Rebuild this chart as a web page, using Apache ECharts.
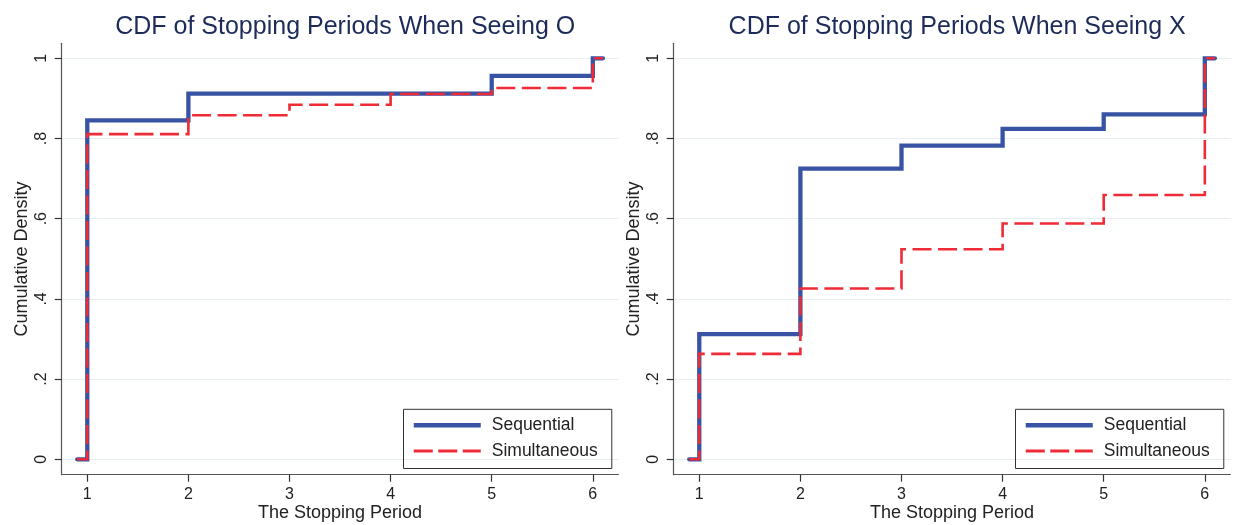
<!DOCTYPE html>
<html>
<head>
<meta charset="utf-8">
<title>CDF of Stopping Periods</title>
<script src="https://cdn.jsdelivr.net/npm/echarts@6/dist/echarts.min.js"></script>
<style>
  html, body { margin: 0; padding: 0; background: #ffffff; }
  #chart { width: 1233px; height: 525px; }
</style>
</head>
<body>
<div id="chart"></div>
<script>
// Stopping periods (0.9 and 6.1 pad the step lines at both ends)
const periods = [0.9, 1, 2, 3, 4, 5, 6, 6.1];

// Cumulative share stopped by each period, seeing O
const seqO = [0, 0.845, 0.912, 0.912, 0.912, 0.956, 1, 1];
const simO = [0, 0.811, 0.858, 0.884, 0.911, 0.926, 1, 1];

// Cumulative share stopped by each period, seeing X
const seqX = [0, 0.312, 0.725, 0.782, 0.824, 0.860, 1, 1];
const simX = [0, 0.263, 0.426, 0.524, 0.588, 0.659, 1, 1];

const xTicks = [1, 2, 3, 4, 5, 6];
const yTicks = [0, 0.2, 0.4, 0.6, 0.8, 1];
const yTickLabels = ['0', '.2', '.4', '.6', '.8', '1'];

const titles = ['CDF of Stopping Periods When Seeing O', 'CDF of Stopping Periods When Seeing X'];
const seriesNames = ['Sequential', 'Simultaneous'];

const BLUE = '#3853a4';
const RED = '#ee2b36';
const FONT = '"Liberation Sans", Arial, Helvetica, sans-serif';

const panels = [
  { left: 61.7, seq: seqO, sim: simO },
  { left: 673.7, seq: seqX, sim: simX }
];
const plotW = 556.7;

function pairs(xs, ys) { return xs.map((x, i) => [x, ys[i]]); }

const option = {
  animation: false,
  backgroundColor: '#ffffff',
  textStyle: { fontFamily: FONT },
  title: panels.map((p, i) => ({
    text: titles[i],
    left: p.left + 278.5,
    textAlign: 'center',
    top: 10,
    textStyle: { fontFamily: FONT, fontSize: 25, fontWeight: 'normal', color: '#1c2b5a' }
  })),
  legend: panels.map((p, i) => ({
    data: [
      { name: seriesNames[0], lineStyle: { color: BLUE, width: 4.5, type: 'solid', cap: 'butt' } },
      { name: seriesNames[1], lineStyle: { color: RED, width: 2.8, type: [19, 5.5], cap: 'butt' } }
    ],
    orient: 'vertical',
    left: p.left + 341.8,
    top: 409.3,
    padding: [7, 14, 8.5, 8],
    itemWidth: 67,
    itemHeight: 18,
    itemGap: 7.7,
    itemStyle: { opacity: 0 },
    borderColor: '#333',
    borderWidth: 1,
    borderRadius: 0,
    selectedMode: false,
    textStyle: { fontFamily: FONT, fontSize: 17.5, color: '#222', lineHeight: 18, padding: [0, 0, 0, 6] }
  })),
  grid: panels.map(p => ({
    left: p.left, top: 43.3, width: plotW, height: 431.4,
    containLabel: false, outerBoundsMode: 'none'
  })),
  xAxis: panels.map((p, i) => ({
    type: 'value',
    gridIndex: i,
    min: 0.747,
    max: 6.253,
    name: 'The Stopping Period',
    nameLocation: 'middle',
    nameGap: 29,
    nameMoveOverlap: false,
    nameTextStyle: { fontFamily: FONT, fontSize: 18, color: '#222' },
    axisLine: { show: true, onZero: false, lineStyle: { color: '#555', width: 1.2 } },
    axisTick: { show: true, length: 7, customValues: xTicks, lineStyle: { color: '#333', width: 1.2 } },
    axisLabel: { customValues: xTicks, margin: 12, fontFamily: FONT, fontSize: 16, color: '#222' },
    splitLine: { show: false }
  })),
  yAxis: panels.map((p, i) => ({
    type: 'value',
    gridIndex: i,
    min: -0.0384,
    max: 1.0374,
    name: 'Cumulative Density',
    nameLocation: 'middle',
    nameGap: 31,
    nameMoveOverlap: false,
    nameTextStyle: { fontFamily: FONT, fontSize: 18, color: '#222' },
    axisLine: { show: true, onZero: false, lineStyle: { color: '#555', width: 1.2 } },
    axisTick: { show: true, length: 7, customValues: yTicks, lineStyle: { color: '#333', width: 1.2 } },
    axisLabel: {
      customValues: yTicks,
      rotate: 90,
      margin: 12,
      fontFamily: FONT, fontSize: 16, color: '#222',
      formatter: v => {
        const k = yTicks.findIndex(t => Math.abs(t - v) < 1e-9);
        return k >= 0 ? yTickLabels[k] : '';
      }
    },
    splitLine: { show: true, lineStyle: { color: '#e6eef1', width: 1.2 } }
  })),
  series: []
};

panels.forEach((p, i) => {
  option.series.push({
    name: seriesNames[0],
    type: 'line',
    xAxisIndex: i,
    yAxisIndex: i,
    step: 'end',
    symbol: 'none',
    data: pairs(periods, p.seq),
    color: BLUE,
    lineStyle: { color: BLUE, width: 4.3, cap: 'round', join: 'miter' },
    z: 2
  });
  option.series.push({
    name: seriesNames[1],
    type: 'line',
    xAxisIndex: i,
    yAxisIndex: i,
    step: 'end',
    symbol: 'none',
    data: pairs(periods, p.sim),
    color: RED,
    lineStyle: { color: RED, width: 2.6, type: [19, 6.5], cap: 'butt', join: 'miter' },
    z: 3
  });
});

const chart = echarts.init(document.getElementById('chart'), null, { renderer: 'canvas' });
chart.setOption(option);
</script>
</body>
</html>
